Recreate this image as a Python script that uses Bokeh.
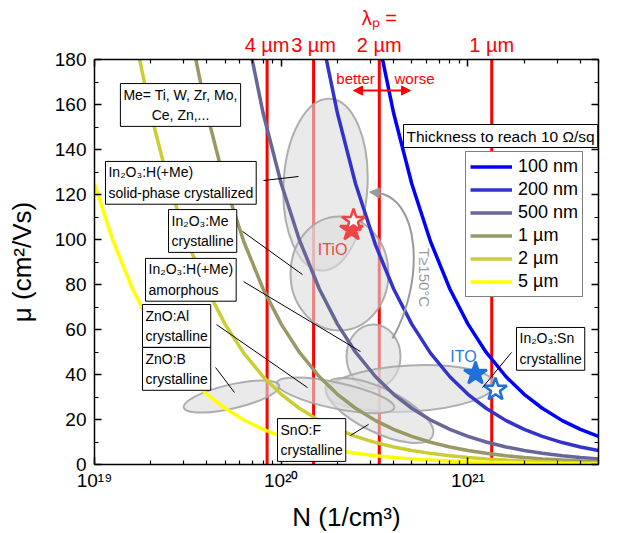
import math
from bokeh.plotting import figure
from bokeh.models import (FixedTicker, SingleIntervalTicker, LogAxis, LinearAxis,
                          CustomJSTickFormatter, Label, Legend, LegendItem, Arrow, NormalHead)
from bokeh.embed import file_html
from bokeh.resources import INLINE

FONT = "Liberation Sans"

# ---------------- data ----------------
# carrier density grid (x 1e19 cm^-3) and mobility
N_GRID_E19 = [1, 1.25, 1.6, 2, 2.5, 3.2, 4, 5, 6.3, 8, 10, 12.5, 16, 20, 25, 32, 40,
              50, 63, 80, 100, 125, 160, 200, 250, 320, 400, 500]
CURVE_LABELS = ["100 nm", "200 nm", "500 nm", "1 µm", "2 µm", "5 µm"]
MU_100NM = [195.1, 156.1, 124.8, 99.1, 78.0, 62.4, 49.9, 39.0, 31.2, 25.0, 19.5, 15.6, 12.5]
MU_200NM = [195.1, 156.1, 124.8, 97.5, 78.0, 62.4, 49.5, 39.0, 31.2, 25.0, 19.5, 15.6,
            12.5, 9.75, 7.8, 6.2]
MU_500NM = [198.2, 156.1, 124.8, 99.9, 78.0, 62.4, 49.9, 39.0, 31.2, 25.0, 19.8, 15.6,
            12.5, 10.0, 7.8, 6.2, 5.0, 3.9, 3.1, 2.5]
MU_1UM = [195.1, 156.1, 124.8, 99.1, 78.0, 62.4, 49.9, 39.0, 31.2, 25.0, 19.5, 15.6,
          12.5, 9.9, 7.8, 6.2, 5.0, 3.9, 3.1, 2.5, 1.95, 1.56, 1.25]
MU_2UM = [195.1, 156.1, 124.8, 97.5, 78.0, 62.4, 49.5, 39.0, 31.2, 25.0, 19.5, 15.6,
          12.5, 9.75, 7.8, 6.2, 4.95, 3.9, 3.1, 2.5, 1.95, 1.56, 1.25, 0.98, 0.78, 0.62]
MU_5UM = [124.8, 99.9, 78.0, 62.4, 49.9, 39.0, 31.2, 25.0, 19.8, 15.6, 12.5, 10.0, 7.8,
          6.2, 5.0, 3.9, 3.1, 2.5, 2.0, 1.6, 1.25, 1.0, 0.78, 0.62, 0.50, 0.39, 0.31, 0.25]
CURVE_MU = [MU_100NM, MU_200NM, MU_500NM, MU_1UM, MU_2UM, MU_5UM]
CURVE_COLORS = ["#0000ff", "#3333cc", "#666699", "#999966", "#cccc33", "#ffff00"]

# plasma wavelength lines
LAMBDA_LABELS = ["4 µm", "3 µm", "\u03bb\u209a =\n2 µm", "1 µm"]
LAMBDA_N = [8.4e19, 1.49e20, 3.35e20, 1.34e21]

# material regions (centre N, centre mu)
REGION_N = [1.726e20, 2.051e20, 3.119e20, 4.92e20, 3.357e20, 1.953e20, 5.415e19]
REGION_MU = [124.4, 84.9, 48.0, 33.8, 24.0, 30.7, 30.2]
REGION_W_PX = [84, 98, 54, 168, 118, 120, 98]
REGION_H_PX = [172, 114, 64, 46, 44, 26, 24]
REGION_ANGLE = [-3, 0, 0, 3, -26, -12, 13]

# record points
STAR_N = [2.379e20, 2.438e20, 1.097e21, 1.404e21]
STAR_MU = [104.4, 108.4, 40.4, 33.3]
STAR_FILL = ["#f04444", "white", "#1f6fdc", "white"]
STAR_LINE = ["#f04444", "#f04444", "#1f6fdc", "#1f6fdc"]

# annotation boxes: text, N, mu (top-left / top-centre), align
BOXES = [
    ("Me= Ti, W, Zr, Mo,\nCe, Zn,...", 2.888e19, 169.3, "center"),
    ("In\u2082O\u2083:H(+Me)\nsolid-phase crystallized", 1.145e19, 134.7, "left"),
    ("In\u2082O\u2083:Me\ncrystalline", 2.491e19, 113.3, "left"),
    ("In\u2082O\u2083:H(+Me)\namorphous", 1.876e19, 91.6, "left"),
    ("ZnO:Al\ncrystalline", 1.807e19, 71.1, "left"),
    ("ZnO:B\ncrystalline", 1.807e19, 52.0, "left"),
    ("SnO:F\ncrystalline", 9.55e19, 20.4, "left"),
    ("In\u2082O\u2083:Sn\ncrystalline", 1.819e21, 60.9, "left"),
]
LEADER_X0 = [8.03e19, 6.20e19, 6.28e19, 4.50e19, 4.45e19, 2.349e20, 1.710e21]
LEADER_Y0 = [126.2, 103.6, 81.3, 62.2, 43.1, 12.9, 49.8]
LEADER_X1 = [1.237e20, 1.300e20, 2.657e20, 1.382e20, 5.62e19, 2.934e20, 1.196e21]
LEADER_Y1 = [128.0, 84.4, 50.2, 34.2, 32.0, 17.8, 34.2]

# ---------------- figure ----------------
p = figure(frame_width=504, frame_height=405, x_axis_type="log", x_range=(1e19, 5e21),
           y_range=(0, 180), output_backend="svg", toolbar_location=None,
           min_border_left=94, min_border_right=32, min_border_top=59, min_border_bottom=69)
p.grid.visible = False
p.outline_line_color = None
p.background_fill_color = "white"
p.border_fill_color = "white"

major_x = [1e19, 1e20, 1e21]
minor_x = [float(m) * 10.0 ** e for e in (19, 20, 21) for m in range(2, 10)]
sup_code = """
const sup = {"0":"\u2070","1":"\u00b9","2":"\u00b2","3":"\u00b3","4":"\u2074","5":"\u2075","6":"\u2076","7":"\u2077","8":"\u2078","9":"\u2079","-":"\u207b"};
const e = Math.round(Math.log10(tick));
return "10" + String(e).split("").map(c => sup[c]).join("");
"""


def style_axis(ax):
    ax.axis_line_width = 1.5
    ax.axis_line_color = "black"
    ax.major_tick_in = 7
    ax.major_tick_out = 0
    ax.minor_tick_in = 4
    ax.minor_tick_out = 0
    ax.major_tick_line_width = 1.5
    ax.minor_tick_line_width = 1.2
    ax.major_tick_line_color = "black"
    ax.minor_tick_line_color = "black"
    ax.major_label_text_font = FONT
    ax.major_label_text_font_size = "19px"
    ax.major_label_text_color = "black"
    ax.axis_label_text_font = FONT
    ax.axis_label_text_font_size = "26px"
    ax.axis_label_text_font_style = "normal"
    ax.axis_label_text_color = "black"


xa = p.xaxis[0]
xa.ticker = FixedTicker(ticks=major_x, minor_ticks=minor_x)
xa.formatter = CustomJSTickFormatter(code=sup_code)
style_axis(xa)
xa.major_label_standoff = 5
xa.axis_label = "N (1/cm\u00b3)"
xa.axis_label_standoff = 8

ya = p.yaxis[0]
ya.ticker = SingleIntervalTicker(interval=20, num_minor_ticks=2)
style_axis(ya)
ya.major_label_standoff = 8
ya.axis_label = "\u03bc (cm\u00b2/Vs)"
ya.axis_label_standoff = 15

top = LogAxis(ticker=FixedTicker(ticks=major_x, minor_ticks=minor_x),
              formatter=CustomJSTickFormatter(code="return ''"))
style_axis(top)
top.major_label_text_font_size = "1px"
top.major_label_standoff = 0
p.add_layout(top, "above")

lam_axis = LogAxis(ticker=FixedTicker(ticks=LAMBDA_N, minor_ticks=[]),
                   formatter=CustomJSTickFormatter(
                       args=dict(lam_n=LAMBDA_N, lam_labels=LAMBDA_LABELS),
                       code="const i = lam_n.findIndex(t => Math.abs(t - tick) / t < 1e-6);"
                            " return i >= 0 ? lam_labels[i] : '';"))
lam_axis.axis_line_color = None
lam_axis.major_tick_line_color = None
lam_axis.minor_tick_line_color = None
lam_axis.major_tick_in = 0
lam_axis.major_tick_out = 0
lam_axis.major_label_standoff = 4
lam_axis.major_label_text_font = FONT
lam_axis.major_label_text_font_size = "20px"
lam_axis.major_label_text_color = "#ff0000"
p.add_layout(lam_axis, "above")

right = LinearAxis(ticker=SingleIntervalTicker(interval=20, num_minor_ticks=2),
                   formatter=CustomJSTickFormatter(code="return ''"))
style_axis(right)
right.major_label_text_font_size = "1px"
right.major_label_standoff = 0
p.add_layout(right, "right")

# plasma wavelength lines
for n in LAMBDA_N:
    p.segment(x0=[n], y0=[0], x1=[n], y1=[180], line_color="#ff0000", line_width=3)

# regions
p.ellipse(x=REGION_N, y=REGION_MU, width=REGION_W_PX, height=REGION_H_PX,
          angle=REGION_ANGLE, angle_units="deg", width_units="screen", height_units="screen",
          fill_color="#dcdcdc", fill_alpha=0.6, line_color="#a6a6a6", line_width=2, line_alpha=0.9)

# thickness curves
items = []
for lab, mu, col in zip(CURVE_LABELS, CURVE_MU, CURVE_COLORS):
    ns = [v * 1e19 for v in N_GRID_E19[-len(mu):]]
    r = p.line(ns, mu, line_color=col, line_width=3.5)
    items.append(LegendItem(label=lab, renderers=[r]))

# T >= 150 C arrow
p.bezier(x0=[3.943e20], y0=[56.0], x1=[3.159e20], y1=[120.9], cx0=[5.923e20], cy0=[81.8],
         cx1=[5.569e20], cy1=[119.6], line_color="#999999", line_width=2)
p.add_layout(Arrow(x_start=3.237e20, y_start=120.8, x_end=2.970e20, y_end=121.1,
                   line_color="#999999", line_width=2,
                   end=NormalHead(size=10, fill_color="#999999", line_color="#999999")))
p.add_layout(Label(x=5.85e20, y=83.1, text="T\u2265150\u00b0C", angle=-math.pi / 2,
                   text_align="center", text_baseline="middle", text_font=FONT,
                   text_font_size="15px", text_color="#999999"))

# stars
p.scatter(STAR_N, STAR_MU, marker="star", size=24, fill_color=STAR_FILL,
          line_color=STAR_LINE, line_width=2.5)
p.add_layout(Label(x=1.882e20, y=95.6, text="ITiO", text_align="center", text_baseline="middle",
                   text_font=FONT, text_font_size="16px", text_color="#f04848"))
p.add_layout(Label(x=9.46e20, y=48.0, text="ITO", text_align="center", text_baseline="middle",
                   text_font=FONT, text_font_size="16px", text_color="#2a7ae2"))

# leader lines
p.segment(x0=LEADER_X0, y0=LEADER_Y0, x1=LEADER_X1, y1=LEADER_Y1, line_color="black", line_width=1)

# boxes
for text, x, y, align in BOXES:
    p.add_layout(Label(x=x, y=y, text=text, text_align=align, text_baseline="top",
                       text_font=FONT, text_font_size="14px", text_line_height=1.3,
                       padding=3, border_line_color="black", border_line_width=1,
                       background_fill_color="white", text_color="black"))

# better / worse
p.add_layout(Arrow(x_start=2.438e20, y_start=166.2, x_end=4.92e20, y_end=166.2,
                   line_color="#ff0000", line_width=2,
                   start=NormalHead(size=9, fill_color="#ff0000", line_color="#ff0000"),
                   end=NormalHead(size=9, fill_color="#ff0000", line_color="#ff0000")))
p.add_layout(Label(x=2.50e20, y=171.6, text="better", text_align="center", text_baseline="middle",
                   text_font=FONT, text_font_size="15px", text_color="#ff0000"))
p.add_layout(Label(x=5.17e20, y=171.6, text="worse", text_align="center", text_baseline="middle",
                   text_font=FONT, text_font_size="15px", text_color="#ff0000"))

# legend
legend = Legend(items=items, location=(371, 167), margin=0, padding=4, spacing=2,
                label_height=21, glyph_height=21, glyph_width=42, label_standoff=6,
                label_text_font=FONT, label_text_font_size="18px", label_text_color="black",
                border_line_color="black", border_line_width=1, background_fill_color="white",
                background_fill_alpha=1)
p.add_layout(legend)
p.add_layout(Label(x=4.516e20, y=151.1, text="Thickness to reach 10 \u03a9/sq", text_align="left",
                   text_baseline="top", text_font=FONT, text_font_size="15.5px", padding=3,
                   border_line_color="black", border_line_width=1, background_fill_color="white",
                   text_color="black"))

open("out.html", "w").write(file_html(p, INLINE))
